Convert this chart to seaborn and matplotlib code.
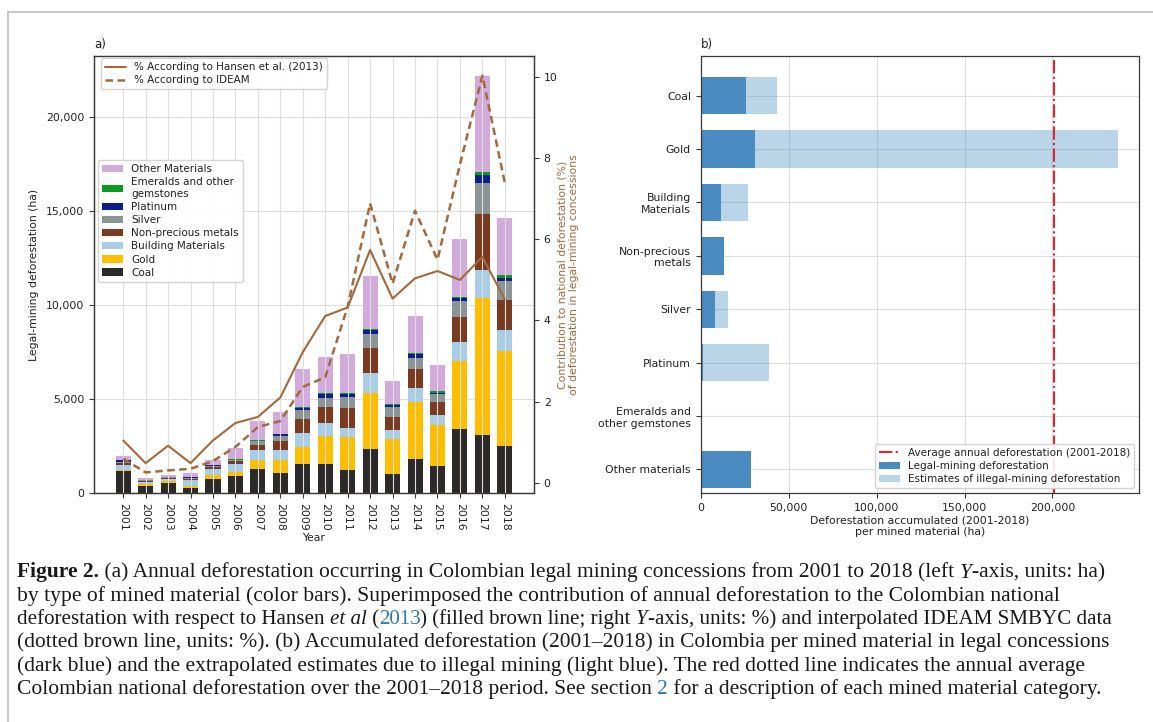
import numpy as np
import pandas as pd
import matplotlib
matplotlib.use("Agg")
import matplotlib.pyplot as plt
import seaborn as sns
from matplotlib.patches import Patch
from matplotlib.lines import Line2D
from matplotlib.legend import Legend
from matplotlib.ticker import FuncFormatter, MultipleLocator

# ---------------- data: panel a ----------------
years = list(range(2001, 2019))
coal = [1150, 390, 550, 270, 770, 920, 1260, 1090, 1530, 1530, 1240, 2360, 1030, 1830, 1440, 3390, 3110, 2490]
gold = [90, 75, 70, 110, 180, 200, 490, 680, 910, 1510, 1740, 2970, 1850, 3020, 2200, 3640, 7280, 5060]
building = [230, 110, 110, 310, 340, 440, 530, 530, 760, 660, 460, 1070, 480, 750, 500, 1000, 1470, 1150]
nonprecious = [150, 55, 50, 70, 110, 130, 260, 450, 730, 890, 1080, 1300, 680, 1000, 690, 1350, 3000, 1560]
silver = [40, 50, 50, 60, 60, 80, 210, 270, 480, 480, 590, 750, 550, 600, 460, 820, 1650, 1010]
platinum = [90, 20, 20, 20, 20, 10, 40, 100, 140, 180, 140, 200, 110, 180, 55, 200, 410, 200]
emeralds = [10, 10, 10, 10, 10, 40, 20, 10, 50, 70, 70, 70, 20, 50, 70, 50, 180, 120]
other = [210, 90, 90, 190, 250, 580, 1010, 1190, 1990, 1940, 2080, 2810, 1220, 1990, 1420, 3070, 5080, 3040]

hansen_pct = [1.04, 0.48, 0.91, 0.48, 1.04, 1.47, 1.62, 2.10, 3.22, 4.11, 4.32, 5.74, 4.54, 5.04, 5.22, 5.00, 5.57, 4.52]
ideam_pct = [0.59, 0.25, 0.30, 0.34, 0.53, 0.88, 1.37, 1.52, 2.36, 2.60, 4.34, 6.89, 4.91, 6.71, 5.50, 7.85, 10.04, 7.40]

material_labels = ["Other Materials", "Emeralds and other\ngemstones", "Platinum", "Silver",
                   "Non-precious metals", "Building Materials", "Gold", "Coal"]
material_values = [other, emeralds, platinum, silver, nonprecious, building, gold, coal]
material_colors = ["#d2aadb", "#0a9a1e", "#0a1f8c", "#8b9496", "#7a3a20", "#a9cde6", "#fdbe00", "#2b2a28"]

# ---------------- data: panel b ----------------
materials_b = ["Coal", "Gold", "Building\nMaterials", "Non-precious\nmetals", "Silver",
               "Platinum", "Emeralds and\nother gemstones", "Other materials"]
legal_b = [25800, 31100, 11400, 13300, 8200, 1500, 0, 28800]
illegal_b = [17600, 206100, 15300, 0, 7500, 37200, 0, 0]
avg_annual = 201000

# ---------------- style ----------------
sns.set_theme(style="whitegrid", rc={
    "axes.edgecolor": "#3a3a3a",
    "axes.linewidth": 0.9,
    "grid.color": "#dedede",
    "grid.linewidth": 0.8,
    "xtick.bottom": True,
    "ytick.left": True,
    "xtick.major.size": 3.5,
    "ytick.major.size": 3.5,
    "xtick.major.width": 0.8,
    "ytick.major.width": 0.8,
    "xtick.color": "#3a3a3a",
    "ytick.color": "#3a3a3a",
    "xtick.labelcolor": "#222222",
    "ytick.labelcolor": "#222222",
    "axes.labelsize": 7.8,
    "xtick.labelsize": 7.8,
    "ytick.labelsize": 7.8,
    "legend.fontsize": 7.5,
    "axes.labelcolor": "#222222",
    "text.color": "#222222",
})
plt.rcParams["font.family"] = ["DejaVu Sans"]

W, H = 1153, 722
fig = plt.figure(figsize=(W / 100, H / 100), dpi=100)
fig.patch.set_facecolor("white")


def frac_rect(x0, y0, x1, y1):
    return [x0 / W, 1 - y1 / H, (x1 - x0) / W, (y1 - y0) / H]


# ---------------- panel a ----------------
ax1 = fig.add_axes(frac_rect(94, 56, 534, 493))
rows = []
for lab, vals in zip(material_labels, material_values):
    for yr, v in zip(years, vals):
        rows.append((yr, lab, v))
df = pd.DataFrame(rows, columns=["year", "material", "value"])
palette = dict(zip(material_labels, material_colors))
sns.histplot(data=df, x="year", weights="value", hue="material", hue_order=material_labels,
             multiple="stack", discrete=True, shrink=0.67, palette=palette, alpha=1,
             linewidth=0, legend=False, ax=ax1)

ax1.set_ylim(0, 23260)
ax1.yaxis.set_major_locator(MultipleLocator(5000))
ax1.yaxis.set_major_formatter(FuncFormatter(lambda v, p: f"{v:,.0f}"))
ax1.set_xticks(years)
ax1.set_xticklabels([str(y) for y in years], rotation=270)
ax1.set_xlabel("Year", labelpad=2)
ax1.set_ylabel("Legal-mining deforestation (ha)", labelpad=5)
ax1.grid(True, axis="both")
ax1.yaxis.set_zorder(0.5)
ax1.xaxis.set_zorder(2.5)
ax1.set_title("a)", loc="left", fontsize=8.5, pad=6)

brown = "#a5683a"
ax2 = ax1.twinx()
sns.lineplot(x=years, y=hansen_pct, ax=ax2, color=brown, lw=1.5,
             label="% According to Hansen et al. (2013)")
sns.lineplot(x=years, y=ideam_pct, ax=ax2, color=brown, lw=1.8, dashes=False,
             label="% According to IDEAM")
ax2.lines[1].set_linestyle((0, (3.0, 1.8)))
ax2.set_ylim(-0.257, 10.526)
ax2.yaxis.set_major_locator(MultipleLocator(2))
ax2.grid(False)
ax2.set_ylabel("Contribution to national deforestation (%)\nof deforestation in legal-mining concessions",
               color=brown, fontsize=7.8, labelpad=0)
ax2.tick_params(axis="y", right=True, length=3.5)
for s in ax2.spines.values():
    s.set_color("#3a3a3a")

leg_top = ax2.legend(loc="upper left", bbox_to_anchor=(7 / 440, 1 - 2 / 437), borderaxespad=0,
                     labelspacing=0.3, frameon=True, fancybox=True, framealpha=0.9,
                     edgecolor="#d0d0d0", handlelength=2.0)
mat_handles = [Patch(facecolor=c, edgecolor="none") for c in material_colors]
leg_mat = Legend(ax2, mat_handles, material_labels, loc="upper left",
                 bbox_to_anchor=(4 / 440, (493 - 160) / 437), borderaxespad=0,
                 labelspacing=0.3, frameon=True, fancybox=True, framealpha=0.9,
                 edgecolor="#d0d0d0", handlelength=2.0, handleheight=0.7, fontsize=7.5)
ax2.add_artist(leg_mat)
ax1.set_xlim(2001 - 1.3, 2018 + 1.3)

# ---------------- panel b ----------------
ax3 = fig.add_axes(frac_rect(700.7, 56, 1139, 493))
total_b = [a + b for a, b in zip(legal_b, illegal_b)]
sns.barplot(x=total_b, y=materials_b, orient="h", color="#1f77b4", alpha=0.3, width=0.7,
            saturation=1, linewidth=0, ax=ax3)
sns.barplot(x=legal_b, y=materials_b, orient="h", color="#4a8cc2", width=0.7,
            saturation=1, linewidth=0, ax=ax3)
ax3.axvline(avg_annual, color="#e8232a", ls="-.", lw=1.5)
ax3.set_xlim(0, 249200)
ax3.set_ylim(7.44, -0.74)
ax3.xaxis.set_major_locator(MultipleLocator(50000))
ax3.xaxis.set_major_formatter(FuncFormatter(lambda v, p: f"{v:,.0f}"))
ax3.grid(True, axis="both")
ax3.set_axisbelow(True)
ax3.set_xlabel("Deforestation accumulated (2001-2018)\nper mined material (ha)", labelpad=2)
ax3.set_ylabel("")
ax3.set_title("b)", loc="left", fontsize=8.5, pad=6)
b_handles = [Line2D([0], [0], color="#e8232a", ls="-.", lw=1.5),
             Patch(facecolor="#4a8cc2", edgecolor="none"),
             Patch(facecolor="#1f77b4", alpha=0.3, edgecolor="none")]
b_labels = ["Average annual deforestation (2001-2018)", "Legal-mining deforestation",
            "Estimates of illegal-mining deforestation"]
ax3.legend(b_handles, b_labels, loc="lower right", borderaxespad=0.45, labelspacing=0.3,
           frameon=True, fancybox=True, framealpha=0.9, edgecolor="#d0d0d0", handlelength=2.0)

# ---------------- outer frame ----------------
fig.add_artist(Line2D([8 / W, 1.0], [1 - 11.5 / H, 1 - 11.5 / H], transform=fig.transFigure,
                      color="#c4c4c4", lw=1.3))
fig.add_artist(Line2D([8 / W, 8 / W], [0.0, 1 - 11.5 / H], transform=fig.transFigure,
                      color="#c4c4c4", lw=1.3))

# ---------------- caption ----------------
N, B, I, L = "n", "b", "i", "l"
caption = [
    [("Figure 2.", B), (" (a) Annual deforestation occurring in Colombian legal mining concessions from 2001 to 2018 (left ", N),
     ("Y", I), ("-axis, units: ha)", N)],
    [("by type of mined material (color bars). Superimposed the contribution of annual deforestation to the Colombian national", N)],
    [("deforestation with respect to Hansen ", N), ("et al", I), (" (", N), ("2013", L),
     (") (filled brown line; right ", N), ("Y", I), ("-axis, units: %) and interpolated IDEAM SMBYC data", N)],
    [("(dotted brown line, units: %). (b) Accumulated deforestation (2001\u20132018) in Colombia per mined material in legal concessions", N)],
    [("(dark blue) and the extrapolated estimates due to illegal mining (light blue). The red dotted line indicates the annual average", N)],
    [("Colombian national deforestation over the 2001\u20132018 period. See section ", N), ("2", L),
     (" for a description of each mined material category.", N)],
]
line_ends = [1102, 1056, 1108, 1106, 1083, 1098]
renderer = fig.canvas.get_renderer()
serif = "Liberation Serif"


def style_kw(st, size):
    kw = dict(fontsize=size, family=serif, color="#1a1a1a")
    if st == B:
        kw["fontweight"] = "bold"
    elif st == I:
        kw["fontstyle"] = "italic"
    elif st == L:
        kw["color"] = "#2a7ab8"
    return kw


def run_width(txt, st, size):
    t1 = fig.text(0, 0, "|" + txt + "|", **style_kw(st, size))
    t2 = fig.text(0, 0, "||", **style_kw(st, size))
    w = t1.get_window_extent(renderer).width - t2.get_window_extent(renderer).width
    t1.remove()
    t2.remove()
    return w


base = 12.0
x_start = 17.0
y0, dy = 577.5, 23.3
for i, line in enumerate(caption):
    w_nat = sum(run_width(t, s, base) for t, s in line)
    size = base * (line_ends[i] - x_start) / w_nat
    x = x_start
    ypx = y0 + i * dy
    for txt, st in line:
        fig.text(x / W, 1 - ypx / H, txt, ha="left", va="baseline", **style_kw(st, size))
        x += run_width(txt, st, size)

fig.savefig("out.png", dpi=100, facecolor="white")
